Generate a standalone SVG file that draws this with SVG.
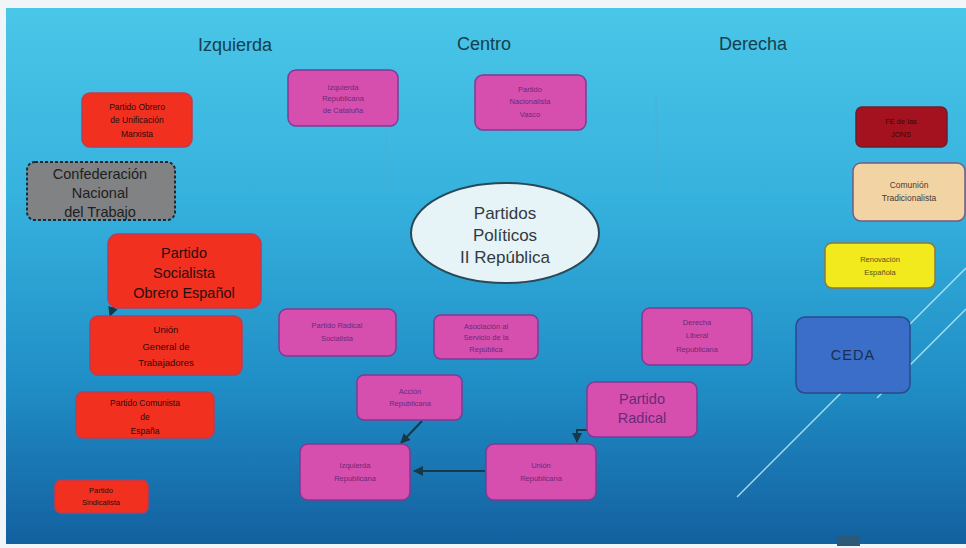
<svg xmlns="http://www.w3.org/2000/svg" width="966" height="548" viewBox="0 0 966 548">
<defs>
<linearGradient id="bg" x1="0" y1="0" x2="0" y2="1">
<stop offset="0" stop-color="#4ac6e8"/>
<stop offset="0.35" stop-color="#36b2de"/>
<stop offset="0.7" stop-color="#208ec6"/>
<stop offset="1" stop-color="#13609f"/>
</linearGradient>
<marker id="arr" viewBox="0 0 10 10" refX="9" refY="5" markerWidth="5" markerHeight="5" orient="auto-start-reverse">
<path d="M0,0 L10,5 L0,10 z" fill="#173848"/>
</marker>
<style>
text{font-family:"Liberation Sans","DejaVu Sans",sans-serif;text-anchor:middle}
.hdr{font-size:18px;fill:#173f4c}
.red rect{fill:#f2301f;stroke:#c03a50;stroke-width:1.5}
.mag rect{fill:#d64fae;stroke:#7e3a94;stroke-width:1.5}
.red text{fill:#2a0c0c}
.mag text{fill:#6a2a7a}
.s7{font-size:7.5px}
.s8{font-size:8.5px}
.s9{font-size:9.5px}
.s14{font-size:14.5px}
.conn line,.conn path{stroke:#173848;stroke-width:2;fill:none}
.deco{stroke:#bdeefa;stroke-width:1.5;opacity:0.85}
</style>
</defs>
<rect x="0" y="0" width="966" height="548" fill="#f2f5f7"/>
<rect x="6" y="8" width="960" height="536" fill="url(#bg)"/>
<g id="decor">
<line class="deco" x1="737" y1="497" x2="966" y2="268"/>
<line class="deco" x1="877" y1="398" x2="966" y2="309"/>
<line x1="386" y1="130" x2="386" y2="195" stroke="#5aa8c8" stroke-width="1" opacity="0.6"/>
<line x1="656" y1="95" x2="656" y2="190" stroke="#5aa8c8" stroke-width="1" opacity="0.6"/>
<rect x="837" y="536" width="23" height="10" fill="#2a5a78"/>
</g>
<g id="headers">
<text class="hdr" x="235" y="51">Izquierda</text>
<text class="hdr" x="484" y="50">Centro</text>
<text class="hdr" x="753" y="50">Derecha</text>
</g>
<g class="conn" id="connectors">
<line x1="116" y1="299" x2="110" y2="316" marker-end="url(#arr)"/>
<line x1="422" y1="421" x2="401" y2="443" marker-end="url(#arr)"/>
<line x1="485" y1="471" x2="414" y2="471" marker-end="url(#arr)"/>
<path d="M595,418 V430 H577 V442" marker-end="url(#arr)"/>
</g>
<g id="poum" class="red">
<rect x="82" y="93" width="110" height="54" rx="8"/>
<text class="s8"><tspan x="137" y="110">Partido Obrero</tspan><tspan x="137" y="123">de Unificación</tspan><tspan x="137" y="137">Marxista</tspan></text>
</g>
<g id="cnt">
<rect x="27" y="162" width="148" height="58" rx="8" fill="#808284" stroke="#1e2a34" stroke-width="2" stroke-dasharray="3,2"/>
<text class="s14" fill="#1e1e1e"><tspan x="100" y="179">Confederación</tspan><tspan x="100" y="198">Nacional</tspan><tspan x="100" y="217">del Trabajo</tspan></text>
</g>
<g id="psoe" class="red">
<rect x="108" y="234" width="153" height="74" rx="10"/>
<text class="s14"><tspan x="184" y="258">Partido</tspan><tspan x="184" y="278">Socialista</tspan><tspan x="184" y="298">Obrero Español</tspan></text>
</g>
<g id="ugt" class="red">
<rect x="90" y="316" width="152" height="59" rx="8"/>
<text class="s9"><tspan x="166" y="333">Unión</tspan><tspan x="166" y="350">General de</tspan><tspan x="166" y="366">Trabajadores</tspan></text>
</g>
<g id="pce" class="red">
<rect x="76" y="392" width="138" height="46" rx="7"/>
<text class="s8"><tspan x="145" y="406">Partido Comunista</tspan><tspan x="145" y="420">de</tspan><tspan x="145" y="434">España</tspan></text>
</g>
<g id="psind" class="red">
<rect x="55" y="480" width="93" height="33" rx="6"/>
<text class="s7"><tspan x="101" y="493">Partido</tspan><tspan x="101" y="505">Sindicalista</tspan></text>
</g>
<g id="ercat" class="mag">
<rect x="288" y="70" width="110" height="56" rx="8"/>
<text class="s7"><tspan x="343" y="90">Izquierda</tspan><tspan x="343" y="101">Republicana</tspan><tspan x="343" y="113">de Cataluña</tspan></text>
</g>
<g id="pnv" class="mag">
<rect x="475" y="75" width="111" height="55" rx="8"/>
<text class="s7"><tspan x="530" y="92">Partido</tspan><tspan x="530" y="104">Nacionalista</tspan><tspan x="530" y="117">Vasco</tspan></text>
</g>
<g id="center">
<ellipse cx="505" cy="233" rx="94" ry="50" fill="#e6f3f7" stroke="#2a4858" stroke-width="2"/>
<text font-size="17" fill="#333a40"><tspan x="505" y="219">Partidos</tspan><tspan x="505" y="241">Políticos</tspan><tspan x="505" y="263">II República</tspan></text>
</g>
<g id="fejons">
<rect x="856" y="107" width="91" height="40" rx="6" fill="#a3121e" stroke="#6a2030" stroke-width="1.5"/>
<text class="s7" fill="#3a0808"><tspan x="901" y="124">FE de las</tspan><tspan x="901" y="137">JONS</tspan></text>
</g>
<g id="ctrad">
<rect x="853" y="163" width="112" height="58" rx="8" fill="#f2d3a4" stroke="#7a5a80" stroke-width="1.5"/>
<text class="s8" fill="#4a3a30"><tspan x="909" y="188">Comunión</tspan><tspan x="909" y="201">Tradicionalista</tspan></text>
</g>
<g id="renov">
<rect x="825" y="243" width="110" height="45" rx="7" fill="#f2ea1c" stroke="#8a7a40" stroke-width="1.5"/>
<text class="s7" fill="#5a5020"><tspan x="880" y="262">Renovación</tspan><tspan x="880" y="275">Española</tspan></text>
</g>
<g id="ceda">
<rect x="796" y="317" width="114" height="76" rx="9" fill="#3a6ec8" stroke="#2a4a8a" stroke-width="1.5"/>
<text class="s14" fill="#1a2e50" x="853" y="360" letter-spacing="1">CEDA</text>
</g>
<g id="prs" class="mag">
<rect x="279" y="309" width="117" height="47" rx="8"/>
<text class="s7"><tspan x="337" y="328">Partido Radical</tspan><tspan x="337" y="341">Socialista</tspan></text>
</g>
<g id="asr" class="mag">
<rect x="434" y="315" width="104" height="44" rx="7"/>
<text class="s7"><tspan x="486" y="329">Asociación al</tspan><tspan x="486" y="340">Servicio de la</tspan><tspan x="486" y="352">República</tspan></text>
</g>
<g id="dlr" class="mag">
<rect x="642" y="308" width="110" height="57" rx="8"/>
<text class="s7"><tspan x="697" y="325">Derecha</tspan><tspan x="697" y="338">Liberal</tspan><tspan x="697" y="352">Republicana</tspan></text>
</g>
<g id="accion" class="mag">
<rect x="357" y="375" width="105" height="45" rx="7"/>
<text class="s7"><tspan x="410" y="394">Acción</tspan><tspan x="410" y="406">Republicana</tspan></text>
</g>
<g id="radical" class="mag">
<rect x="587" y="382" width="110" height="55" rx="8"/>
<text class="s14"><tspan x="642" y="404">Partido</tspan><tspan x="642" y="423">Radical</tspan></text>
</g>
<g id="izqrep" class="mag">
<rect x="300" y="444" width="110" height="56" rx="8"/>
<text class="s7"><tspan x="355" y="468">Izquierda</tspan><tspan x="355" y="481">Republicana</tspan></text>
</g>
<g id="unionrep" class="mag">
<rect x="486" y="444" width="110" height="56" rx="8"/>
<text class="s7"><tspan x="541" y="468">Unión</tspan><tspan x="541" y="481">Republicana</tspan></text>
</g>
</svg>
